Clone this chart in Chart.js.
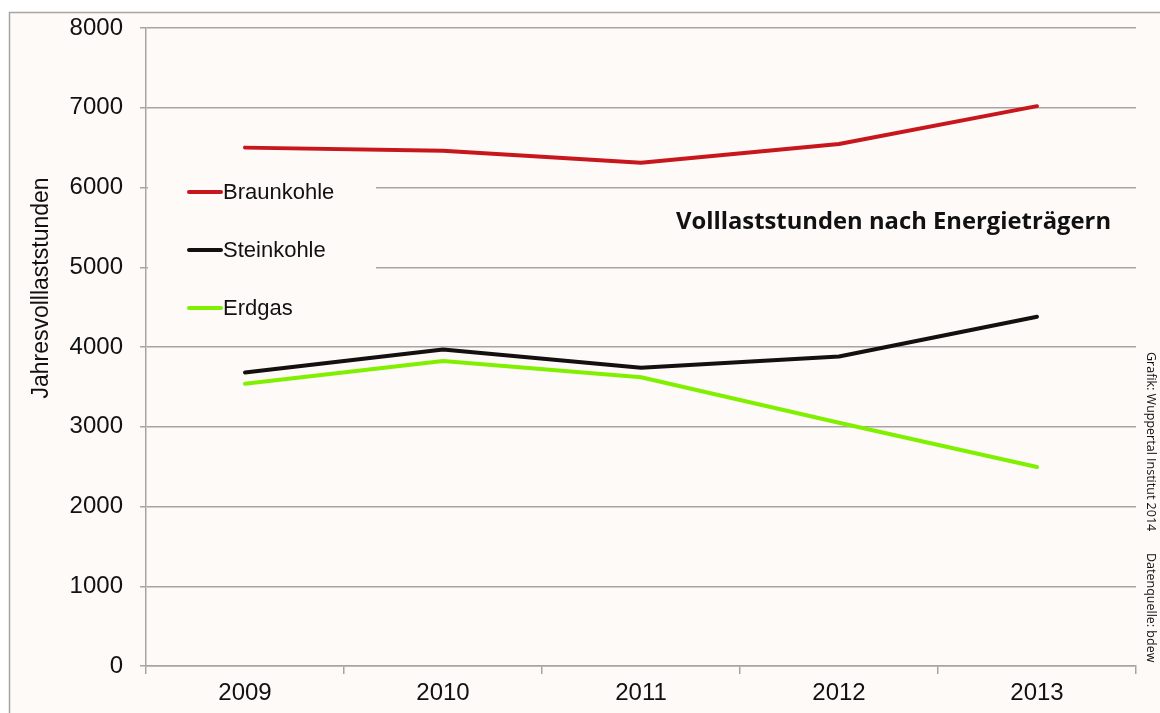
<!DOCTYPE html>
<html>
<head>
<meta charset="utf-8">
<script src="https://cdn.jsdelivr.net/npm/chart.js@4/dist/chart.umd.min.js"></script>
<style>
  body { margin: 0; background: #ffffff; }
  canvas { display: block; }
</style>
</head>
<body>
<canvas id="vlh" width="1160" height="713"></canvas>
<script>
// Daten
var years = ['2009', '2010', '2011', '2012', '2013'];
var braunkohle = [6500, 6460, 6310, 6545, 7020];
var steinkohle = [3680, 3970, 3740, 3880, 4380];
var erdgas = [3540, 3825, 3620, 3050, 2495];
var yTicks = [0, 1000, 2000, 3000, 4000, 5000, 6000, 7000, 8000];

var colors = ['#c8161d', '#150f0f', '#80f000'];
var gridColor = '#aaa3a2';
var bgColor = '#fdfaf8';
var arial = '"Liberation Sans", Arial, sans-serif';

// Rahmen, Legende, Titel, Quellen
var decoPlugin = {
    id: 'deco',
    beforeDraw: function (chart) {
        var ctx = chart.ctx;
        ctx.save();
        ctx.fillStyle = '#ffffff';
        ctx.fillRect(0, 0, chart.width, chart.height);
        ctx.fillStyle = bgColor;
        ctx.fillRect(9, 12, chart.width - 9, chart.height - 12);
        ctx.strokeStyle = gridColor;
        ctx.lineWidth = 1.5;
        ctx.beginPath();
        ctx.moveTo(9.5, chart.height);
        ctx.lineTo(9.5, 12.5);
        ctx.lineTo(chart.width, 12.5);
        ctx.stroke();
        ctx.restore();
    },
    beforeDatasetsDraw: function (chart) {
        var ctx = chart.ctx;
        ctx.save();
        // Legende verdeckt Gitterlinien
        ctx.fillStyle = bgColor;
        ctx.fillRect(148, 172, 228, 158);
        var ys = [192, 250, 308];
        chart.data.datasets.forEach(function (ds, i) {
            ctx.strokeStyle = ds.borderColor;
            ctx.lineWidth = 4;
            ctx.lineCap = 'round';
            ctx.beginPath();
            ctx.moveTo(189, ys[i]);
            ctx.lineTo(221, ys[i]);
            ctx.stroke();
            ctx.fillStyle = '#111111';
            ctx.font = '22px ' + arial;
            ctx.textBaseline = 'middle';
            ctx.textAlign = 'left';
            ctx.fillText(ds.label, 223, ys[i] + 1);
        });

        // Titel
        ctx.fillStyle = '#111111';
        ctx.font = 'bold 23.8px "Open Sans", sans-serif';
        ctx.textAlign = 'left';
        ctx.textBaseline = 'middle';
        ctx.fillText('Volllaststunden nach Energieträgern', 676, 222);

        // Achsentitel
        ctx.save();
        ctx.translate(42, 288);
        ctx.rotate(-Math.PI / 2);
        ctx.textAlign = 'center';
        ctx.font = '23px ' + arial;
        ctx.fillText('Jahresvolllaststunden', 0, 0);
        ctx.restore();

        // Quellen
        ctx.save();
        ctx.translate(1151, 352);
        ctx.rotate(Math.PI / 2);
        ctx.textAlign = 'left';
        ctx.font = '12.5px "Open Sans", sans-serif';
        ctx.fillText('Grafik: Wuppertal Institut 2014', 0, 0);
        ctx.fillText('Datenquelle: bdew', 201, 0);
        ctx.restore();
        ctx.restore();
    }
};

function makeSet(label, data, color) {
    return {
        label: label,
        data: data,
        borderColor: color,
        backgroundColor: color,
        borderWidth: 4,
        borderCapStyle: 'round',
        borderJoinStyle: 'round',
        tension: 0,
        pointRadius: 0,
        fill: false
    };
}

var chart = new Chart(document.getElementById('vlh'), {
    type: 'line',
    data: {
        labels: years,
        datasets: [
            makeSet('Braunkohle', braunkohle, colors[0]),
            makeSet('Steinkohle', steinkohle, colors[1]),
            makeSet('Erdgas', erdgas, colors[2])
        ]
    },
    options: {
        responsive: false,
        animation: false,
        layout: { padding: { left: 0, top: 28, right: 24, bottom: 0 } },
        plugins: {
            legend: { display: false },
            title: { display: false },
            tooltip: { enabled: false }
        },
        scales: {
            x: {
                type: 'category',
                offset: true,
                grid: {
                    offset: true,
                    drawOnChartArea: false,
                    color: gridColor,
                    tickLength: 8,
                    lineWidth: 1.5
                },
                border: { color: gridColor, width: 1.5 },
                ticks: {
                    color: '#111111',
                    font: { family: arial, size: 24 },
                    padding: 5
                },
                afterFit: function (s) { s.height = 47; }
            },
            y: {
                min: 0,
                max: 8000,
                afterBuildTicks: function (s) {
                    s.ticks = yTicks.map(function (v) { return { value: v }; });
                },
                grid: {
                    color: gridColor,
                    tickLength: 6,
                    lineWidth: 1.5
                },
                border: { color: gridColor, width: 1.5 },
                ticks: {
                    color: '#111111',
                    font: { family: arial, size: 24, lineHeight: 1 },
                    padding: 17,
                    callback: function (v) { return String(v); }
                },
                afterFit: function (s) {
                    s.width = 146;
                    s.paddingTop = 0;
                    s.paddingBottom = 0;
                }
            }
        }
    },
    plugins: [decoPlugin]
});
</script>
</body>
</html>
